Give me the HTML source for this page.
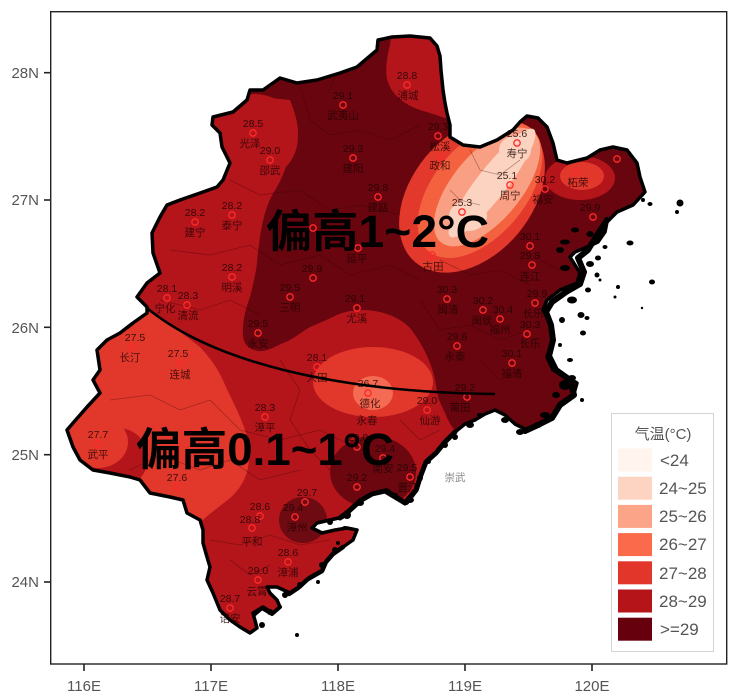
<!DOCTYPE html>
<html><head><meta charset="utf-8"><style>
html,body{margin:0;padding:0;background:#fff;}
svg{display:block;}
.ax{font-family:"Liberation Sans",sans-serif;font-size:15px;fill:#555;}
.num{font-family:"Liberation Sans",sans-serif;font-size:10.5px;fill:#220303;fill-opacity:.85;text-anchor:middle;}
.nm{font-family:"Liberation Sans","Noto Sans CJK SC",sans-serif;font-size:10.5px;fill:#220303;fill-opacity:.8;text-anchor:middle;}
.big{font-family:"Liberation Sans","Noto Sans CJK SC",sans-serif;font-size:45px;font-weight:bold;fill:#000;}
.lg{font-family:"Liberation Sans","Noto Sans CJK SC",sans-serif;font-size:17px;fill:#555;}
</style></head><body>
<svg width="754" height="696" viewBox="0 0 754 696" xmlns="http://www.w3.org/2000/svg">
<defs>
<clipPath id="prov"><path id="provp" d="M378,40 L392,37 L410,36 L430,38 L437,46 L440,56 L441,70 L443,90 L445,103 L447,113 L450,125 L450,137 L463,145 L480,147 L497,140 L513,130 L520,122 L527,116 L538,118 L547,127 L553,143 L557,160 L567,163 L587,158 L600,150 L613,147 L627,150 L637,163 L640,177 L645,192 L633,205 L617,212 L607,222 L605,232 L598,242 L587,247 L575,252 L570,257 L580,273 L577,283 L560,290 L547,300 L543,310 L550,323 L553,337 L547,357 L553,370 L567,377 L577,383 L573,397 L560,403 L553,417 L540,423 L527,430 L515,424 L505,415 L495,410 L485,414 L475,420 L465,424 L455,432 L447,440 L437,452 L427,460 L423,470 L417,490 L407,503 L397,497 L387,490 L375,493 L362,500 L350,510 L343,517 L330,520 L317,523 L312,528 L322,533 L335,530 L347,528 L357,530 L353,540 L343,547 L333,553 L327,560 L323,570 L310,577 L300,587 L290,593 L277,587 L267,587 L270,593 L277,600 L280,607 L273,613 L263,607 L253,613 L257,628 L250,633 L240,627 L230,620 L220,610 L213,593 L207,580 L210,567 L207,557 L203,543 L203,530 L200,520 L187,513 L183,500 L170,497 L150,493 L140,480 L130,477 L110,473 L93,470 L80,460 L73,447 L67,430 L73,423 L87,407 L100,393 L93,380 L100,370 L97,350 L107,340 L120,333 L133,323 L147,313 L147,307 L137,297 L147,283 L160,273 L153,253 L152,233 L160,217 L167,205 L180,200 L203,192 L217,187 L223,180 L230,163 L222,147 L220,133 L212,125 L213,117 L233,112 L247,100 L250,90 L263,90 L280,78 L297,83 L317,80 L340,73 L357,67 L377,50 Z"/></clipPath>
</defs>

<!-- map fills -->
<g clip-path="url(#prov)">
  <rect x="0" y="0" width="754" height="696" fill="#b3151b"/>
  <!-- SW 27-28 region -->
  <path d="M40,300 L147,311 C165,320 185,335 200,347 C212,360 220,372 225,385 C232,400 240,415 245,430 C250,447 250,460 247,472 C243,485 235,495 225,502 C215,510 208,515 203,520 L40,530 Z" fill="#e1382b"/>
  <ellipse cx="118" cy="458" rx="30" ry="30" fill="#b3151b"/>
  <ellipse cx="98" cy="442" rx="30" ry="26" fill="#e1382b"/>
  <!-- dark >=29 region -->
  <path d="M240,30 L392,30 L390,45 C386,60 385,75 388,82 C392,95 405,105 420,110 C430,113 440,116 445,118 L470,118 L760,118 L760,445 L560,440 L455,430 C450,425 447,418 445,413 C441,405 439,400 438,397 C436,385 434,372 430,363 C425,350 418,338 410,328 C400,318 385,311 365,310 C350,310 340,313 333,317 C322,322 315,325 310,327 C300,333 292,340 283,343 C275,347 266,352 258,351 C248,349 243,343 243,335 C242,325 245,310 250,297 C253,285 256,272 257,263 C258,250 259,245 260,237 C262,225 264,215 267,207 C270,198 274,192 277,187 C282,178 285,170 287,163 C292,150 298,140 298,130 C297,118 293,108 290,100 L250,96 Z" fill="#69050e"/>
  <!-- NW 28-29 circle -->
  <circle cx="255" cy="137" r="43" fill="#b3151b"/>
  <!-- Dehua -->
  <ellipse cx="373" cy="382" rx="60" ry="35" fill="#e1382b"/>
  <ellipse cx="373" cy="393" rx="20" ry="17" fill="#f56a52"/>
  <!-- south dark blobs -->
  <ellipse cx="373" cy="472" rx="43" ry="36" fill="#6c0710"/>
  <ellipse cx="303" cy="520" rx="24" ry="23" fill="#6e0a12"/>
  <!-- NE gradient -->
  <ellipse cx="0" cy="0" rx="88" ry="60" transform="translate(472,195) rotate(-50)" fill="#e2392c"/>
  <ellipse cx="0" cy="0" rx="80" ry="46" transform="translate(480,190) rotate(-50)" fill="#f4613f"/>
  <ellipse cx="0" cy="0" rx="72" ry="34" transform="translate(487,187) rotate(-50)" fill="#f9a084"/>
  <ellipse cx="0" cy="0" rx="68" ry="15" transform="translate(492,183) rotate(-52)" fill="#fbd3c0"/>
  <ellipse cx="468" cy="216" rx="19" ry="15" fill="#fbd3c0"/>
  <ellipse cx="515" cy="150" rx="16" ry="14" fill="#fbd3c0"/>
  <!-- Zherong -->
  <ellipse cx="580" cy="178" rx="35" ry="22" fill="#b3151b"/>
  <ellipse cx="582" cy="176" rx="22" ry="14" fill="#e1382b"/>
  <!-- county lines -->
  <g fill="none" stroke="#300" stroke-opacity=".35" stroke-width=".8">
    <path d="M300,85 L310,120 L330,135 L360,130 L390,140 L420,125"/>
    <path d="M230,180 L260,195 L300,190 L330,210 L360,205 L400,215"/>
    <path d="M170,250 L210,255 L250,245 L280,265 L320,255 L350,275 L390,265 L420,280"/>
    <path d="M160,300 L200,310 L230,300 L260,315"/>
    <path d="M110,400 L150,395 L180,410 L210,400 L240,430 L280,440 L320,430 L350,445"/>
    <path d="M130,470 L160,455 L200,470 L230,460 L260,480 L300,470"/>
    <path d="M210,540 L240,545 L270,535 L300,545 L330,540"/>
    <path d="M420,300 L440,330 L470,325 L500,340 L530,330"/>
    <path d="M440,260 L470,275 L500,270 L530,285"/>
    <path d="M470,150 L480,170 L500,175 L520,160"/>
    <path d="M450,190 L460,200 L480,205"/>
    <path d="M280,360 L300,390 L290,420 L310,450 L330,470"/>
    <path d="M400,420 L420,440 L440,430"/>
    <path d="M230,560 L250,575 L270,565"/>
    <path d="M180,150 L200,170 L215,185"/>
    <path d="M330,90 L340,60"/>
    <path d="M480,360 L500,380 L520,370"/>
    <path d="M540,260 L560,270"/>
  </g>
</g>

<!-- outline -->
<use href="#provp" fill="none" stroke="#000" stroke-width="3.5" stroke-linejoin="round"/>

<!-- thick coastal clutter -->
<g fill="none" stroke="#000" stroke-linejoin="round" stroke-linecap="round">
  <path stroke-width="6" d="M607,220 L597,235 L588,250 L578,258 L584,272 L580,284 L566,292 L552,302 L546,312 L551,325 L553,340 L549,356 L556,370 L570,380 L574,395 L560,405 L552,418 L538,425 L525,431"/>
  <path stroke-width="5" d="M455,432 L445,442 L436,453 L426,462 L421,475 L416,490 L405,503 L395,497 L385,491 L372,494 L360,501 L349,511 L340,518"/>
  <path stroke-width="4.5" d="M343,547 L333,554 L326,562 L322,571 L308,579 L298,588 L289,594"/>
  <path stroke-width="4" d="M280,607 L272,614 L262,608 L255,614"/>
</g>

<!-- coastal clutter / islands -->
<g fill="#000">
  <ellipse cx="575" cy="230" rx="4" ry="2.5"/><ellipse cx="590" cy="234" rx="3.5" ry="3"/><ellipse cx="565" cy="242" rx="5" ry="2.5"/>
  <ellipse cx="598" cy="258" rx="3" ry="2.5"/><ellipse cx="590" cy="264" rx="4" ry="3"/><ellipse cx="565" cy="268" rx="5" ry="3"/>
  <ellipse cx="572" cy="300" rx="5" ry="3.5"/><ellipse cx="588" cy="290" rx="3" ry="2.5"/><ellipse cx="560" cy="250" rx="4" ry="3"/>
  <ellipse cx="605" cy="247" rx="2.5" ry="2"/><ellipse cx="597" cy="275" rx="2.5" ry="2.5"/><ellipse cx="581" cy="315" rx="3.5" ry="3"/>
  <ellipse cx="562" cy="320" rx="3" ry="3"/><ellipse cx="680" cy="203" rx="3.5" ry="3.5"/><ellipse cx="677" cy="212" rx="2" ry="2"/>
  <ellipse cx="650" cy="204" rx="2.5" ry="2"/><ellipse cx="643" cy="200" rx="2" ry="2"/><ellipse cx="652" cy="282" rx="3" ry="2.5"/>
  <ellipse cx="618" cy="287" rx="2" ry="2"/><ellipse cx="615" cy="297" rx="1.5" ry="1.5"/><ellipse cx="600" cy="280" rx="1.5" ry="1.5"/>
  <ellipse cx="583" cy="333" rx="3" ry="2.5"/><ellipse cx="587" cy="318" rx="2.5" ry="2"/><ellipse cx="642" cy="308" rx="1.2" ry="1.2"/>
  <ellipse cx="582" cy="400" rx="2" ry="2"/><ellipse cx="560" cy="345" rx="2" ry="2"/><ellipse cx="570" cy="360" rx="3" ry="2"/>
  <ellipse cx="565" cy="385" rx="6" ry="5"/><ellipse cx="572" cy="378" rx="4" ry="3"/><ellipse cx="556" cy="395" rx="4" ry="3"/>
  <ellipse cx="545" cy="415" rx="5" ry="3"/><ellipse cx="538" cy="425" rx="4" ry="3"/><ellipse cx="520" cy="432" rx="4" ry="3"/>
  <ellipse cx="505" cy="420" rx="4" ry="3"/><ellipse cx="480" cy="415" rx="3" ry="2"/><ellipse cx="470" cy="425" rx="4" ry="3"/>
  <ellipse cx="455" cy="437" rx="3" ry="3"/><ellipse cx="445" cy="445" rx="3" ry="3"/><ellipse cx="428" cy="462" rx="3" ry="2"/>
  <ellipse cx="420" cy="478" rx="3" ry="3"/><ellipse cx="410" cy="500" rx="4" ry="3"/><ellipse cx="395" cy="495" rx="3" ry="2"/>
  <ellipse cx="360" cy="503" rx="4" ry="3"/><ellipse cx="347" cy="515" rx="4" ry="4"/><ellipse cx="330" cy="522" rx="3" ry="3"/>
  <ellipse cx="345" cy="528" rx="3" ry="2"/><ellipse cx="335" cy="550" rx="3" ry="3"/><ellipse cx="322" cy="565" rx="3" ry="3"/>
  <ellipse cx="300" cy="585" rx="3" ry="3"/><ellipse cx="285" cy="595" rx="3" ry="3"/><ellipse cx="270" cy="612" rx="3" ry="3"/>
  <ellipse cx="262" cy="625" rx="3" ry="3"/><ellipse cx="297" cy="635" rx="2" ry="2"/><ellipse cx="338" cy="543" rx="2" ry="2"/>
  <ellipse cx="318" cy="582" rx="2" ry="2"/><ellipse cx="630" cy="243" rx="3.5" ry="2.5"/>
</g>

<!-- station markers -->
<g fill="none" stroke="#ff2a2a" stroke-width="1.3">
<circle cx="407" cy="85" r="3.2"/><circle cx="343" cy="105" r="3.2"/><circle cx="253" cy="133" r="3.2"/><circle cx="270" cy="160" r="3.2"/>
<circle cx="353" cy="158" r="3.2"/><circle cx="438" cy="136" r="3.2"/><circle cx="442" cy="157" r="3.2"/><circle cx="378" cy="197" r="3.2"/>
<circle cx="517" cy="143" r="3.2"/><circle cx="510" cy="185" r="3.2"/><circle cx="545" cy="189" r="3.2"/><circle cx="575" cy="172" r="3.2"/>
<circle cx="617" cy="159" r="3.2"/><circle cx="462" cy="212" r="3.2"/><circle cx="432" cy="255" r="3.2"/><circle cx="593" cy="217" r="3.2"/>
<circle cx="530" cy="246" r="3.2"/><circle cx="532" cy="265" r="3.2"/><circle cx="535" cy="303" r="3.2"/><circle cx="447" cy="299" r="3.2"/>
<circle cx="483" cy="310" r="3.2"/><circle cx="500" cy="319" r="3.2"/><circle cx="527" cy="334" r="3.2"/><circle cx="457" cy="346" r="3.2"/>
<circle cx="512" cy="363" r="3.2"/><circle cx="467" cy="397" r="3.2"/><circle cx="427" cy="410" r="3.2"/><circle cx="368" cy="393" r="3.2"/>
<circle cx="317" cy="367" r="3.2"/><circle cx="357" cy="308" r="3.2"/><circle cx="313" cy="278" r="3.2"/><circle cx="290" cy="297" r="3.2"/>
<circle cx="313" cy="228" r="3.2"/><circle cx="358" cy="248" r="3.2"/><circle cx="258" cy="333" r="3.2"/><circle cx="167" cy="298" r="3.2"/>
<circle cx="187" cy="305" r="3.2"/><circle cx="132" cy="347" r="3.2"/><circle cx="180" cy="363" r="3.2"/><circle cx="265" cy="417" r="3.2"/>
<circle cx="98" cy="444" r="3.2"/><circle cx="177" cy="487" r="3.2"/><circle cx="195" cy="222" r="3.2"/><circle cx="232" cy="215" r="3.2"/>
<circle cx="232" cy="277" r="3.2"/><circle cx="260" cy="516" r="3.2"/><circle cx="252" cy="528" r="3.2"/><circle cx="288" cy="562" r="3.2"/>
<circle cx="258" cy="580" r="3.2"/><circle cx="230" cy="608" r="3.2"/><circle cx="305" cy="502" r="3.2"/><circle cx="295" cy="517" r="3.2"/>
<circle cx="357" cy="447" r="3.2"/><circle cx="383" cy="458" r="3.2"/><circle cx="410" cy="477" r="3.2"/><circle cx="357" cy="487" r="3.2"/>
</g>

<!-- station numbers -->
<g class="num">
<text x="407" y="79">28.8</text><text x="343" y="99">29.1</text><text x="253" y="127">28.5</text><text x="270" y="154">29.0</text>
<text x="353" y="152">29.3</text><text x="438" y="130">29.3</text><text x="378" y="191">29.8</text><text x="517" y="137">25.6</text>
<text x="507" y="179">25.1</text><text x="545" y="183">30.2</text><text x="462" y="206">25.3</text><text x="590" y="211">29.9</text>
<text x="530" y="240">30.1</text><text x="530" y="259">29.8</text><text x="537" y="297">29.9</text><text x="447" y="293">30.3</text>
<text x="483" y="304">30.2</text><text x="503" y="313">30.4</text><text x="530" y="328">30.3</text><text x="457" y="340">29.6</text>
<text x="512" y="357">30.1</text><text x="465" y="391">29.2</text><text x="427" y="404">29.0</text><text x="368" y="387">26.7</text>
<text x="317" y="361">28.1</text><text x="355" y="302">29.1</text><text x="312" y="272">29.9</text><text x="290" y="291">29.5</text>
<text x="258" y="327">29.5</text><text x="167" y="292">28.1</text><text x="188" y="299">28.3</text><text x="135" y="341">27.5</text>
<text x="178" y="357">27.5</text><text x="265" y="411">28.3</text><text x="98" y="438">27.7</text><text x="177" y="481">27.6</text>
<text x="195" y="216">28.2</text><text x="232" y="209">28.2</text><text x="232" y="271">28.2</text><text x="260" y="510">28.6</text>
<text x="250" y="523">28.8</text><text x="288" y="556">28.6</text><text x="258" y="574">29.0</text><text x="230" y="602">28.7</text>
<text x="307" y="496">29.7</text><text x="293" y="511">29.4</text><text x="358" y="441">29.0</text><text x="385" y="452">29.4</text>
<text x="407" y="471">29.5</text><text x="357" y="481">29.2</text>
</g>
<!-- station names -->
<g class="nm">
<text x="408" y="99">浦城</text><text x="343" y="119">武夷山</text><text x="250" y="147">光泽</text><text x="270" y="174">邵武</text>
<text x="353" y="172">建阳</text><text x="440" y="150">松溪</text><text x="440" y="169">政和</text><text x="378" y="211">建瓯</text>
<text x="517" y="157">寿宁</text><text x="510" y="199">周宁</text><text x="543" y="203">福安</text><text x="578" y="186">柘荣</text>
<text x="433" y="270">古田</text><text x="530" y="280">连江</text><text x="533" y="317">长乐</text><text x="448" y="313">闽清</text>
<text x="482" y="324">闽侯</text><text x="500" y="333">福州</text><text x="530" y="347">长乐</text><text x="455" y="360">永泰</text>
<text x="512" y="377">福清</text><text x="460" y="411">莆田</text><text x="430" y="424">仙游</text><text x="370" y="407">德化</text>
<text x="367" y="424">永春</text><text x="317" y="381">大田</text><text x="357" y="322">尤溪</text><text x="290" y="311">三明</text>
<text x="357" y="262">延平</text><text x="258" y="347">永安</text><text x="165" y="312">宁化</text><text x="188" y="319">清流</text>
<text x="130" y="361">长汀</text><text x="180" y="378">连城</text><text x="265" y="431">漳平</text><text x="98" y="458">武平</text>
<text x="195" y="236">建宁</text><text x="232" y="229">泰宁</text><text x="232" y="291">明溪</text><text x="252" y="545">平和</text>
<text x="288" y="576">漳浦</text><text x="257" y="595">云霄</text><text x="230" y="622">诏安</text><text x="297" y="531">漳州</text>
<text x="383" y="472">南安</text><text x="408" y="491">晋江</text>
</g>
<text x="455" y="481" style="font-family:'Liberation Sans','Noto Sans CJK SC',sans-serif;font-size:10.5px;fill:#888;text-anchor:middle">崇武</text>

<!-- curve line -->
<path d="M147,308 C210,360 330,392 495,394" fill="none" stroke="#000" stroke-width="2.5"/>

<!-- big texts -->
<text class="big" x="266" y="247" textLength="223" lengthAdjust="spacingAndGlyphs">偏高1~2°C</text>
<text class="big" x="136" y="465" textLength="258" lengthAdjust="spacingAndGlyphs">偏高0.1~1°C</text>

<!-- axes frame -->
<rect x="50.7" y="11.7" width="676" height="652.3" fill="none" stroke="#222" stroke-width="1.4"/>
<g stroke="#222" stroke-width="1.6">
<line x1="44" y1="72.7" x2="50.7" y2="72.7"/><line x1="44" y1="200" x2="50.7" y2="200"/><line x1="44" y1="327.3" x2="50.7" y2="327.3"/>
<line x1="44" y1="454.7" x2="50.7" y2="454.7"/><line x1="44" y1="582" x2="50.7" y2="582"/>
<line x1="84" y1="664" x2="84" y2="671"/><line x1="211" y1="664" x2="211" y2="671"/><line x1="338" y1="664" x2="338" y2="671"/>
<line x1="465" y1="664" x2="465" y2="671"/><line x1="592" y1="664" x2="592" y2="671"/>
</g>
<g class="ax" text-anchor="end">
<text x="39" y="78">28N</text><text x="39" y="205">27N</text><text x="39" y="333">26N</text><text x="39" y="460">25N</text><text x="39" y="587">24N</text>
</g>
<g class="ax" text-anchor="middle">
<text x="84" y="691">116E</text><text x="211" y="691">117E</text><text x="338" y="691">118E</text><text x="465" y="691">119E</text><text x="592" y="691">120E</text>
</g>

<!-- legend -->
<rect x="611.5" y="413.5" width="102" height="238" fill="#fff" stroke="#d4d4d4" stroke-width="1"/>
<text x="663" y="439" text-anchor="middle" style="font-family:'Liberation Sans','Noto Sans CJK SC',sans-serif;font-size:15px;fill:#555">气温(°C)</text>
<rect x="618" y="448.5" width="34" height="23" fill="#fff5ee"/>
<rect x="618" y="476.7" width="34" height="23" fill="#fdd4c2"/>
<rect x="618" y="504.9" width="34" height="23" fill="#fca487"/>
<rect x="618" y="533.1" width="34" height="23" fill="#fb6a4a"/>
<rect x="618" y="561.3" width="34" height="23" fill="#e2362a"/>
<rect x="618" y="589.5" width="34" height="23" fill="#b51419"/>
<rect x="618" y="617.7" width="34" height="23" fill="#67000d"/>
<g class="lg">
<text x="660" y="466">&lt;24</text>
<text x="659" y="494">24~25</text>
<text x="659" y="522">25~26</text>
<text x="659" y="550">26~27</text>
<text x="659" y="579">27~28</text>
<text x="659" y="607">28~29</text>
<text x="660" y="635">&gt;=29</text>
</g>
</svg>
</body></html>
